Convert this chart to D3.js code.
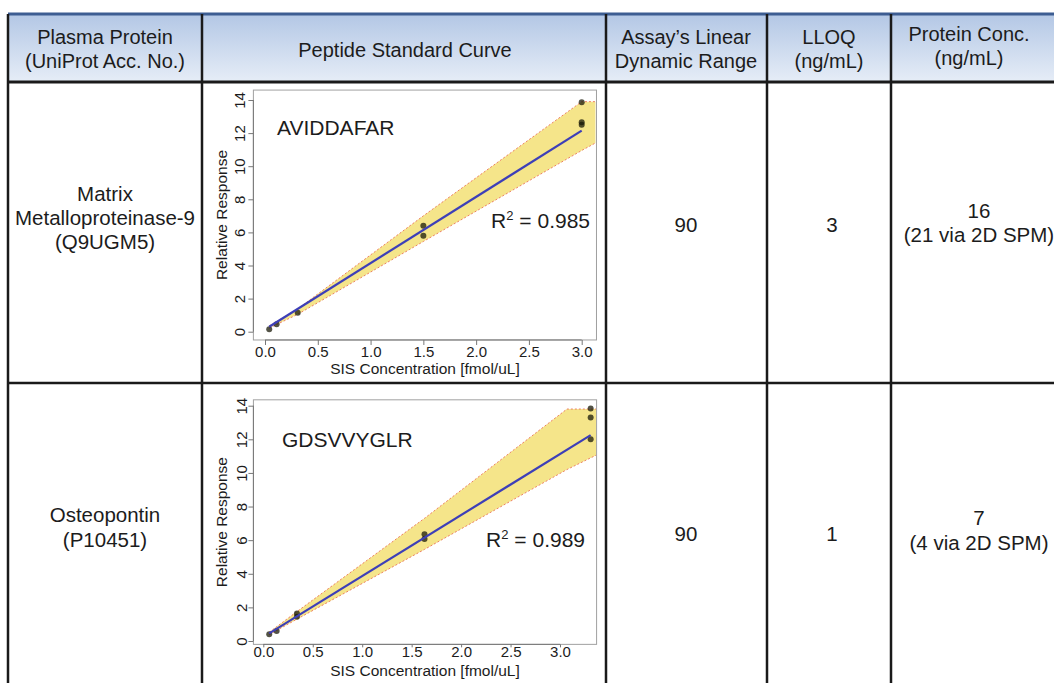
<!DOCTYPE html>
<html>
<head>
<meta charset="utf-8">
<script src="https://cdn.jsdelivr.net/npm/d3@7"></script>
<style>
  body { margin: 0; background: #fff; }
  svg { display: block; }
  text { font-family: "Liberation Sans", Arial, Helvetica, sans-serif; fill: #1c1c1c; }
</style>
</head>
<body>
<div id="chart"></div>
<script>
// ---- table content ----
const headers = [
  ["Plasma Protein", "(UniProt Acc. No.)"],
  ["Peptide Standard Curve"],
  ["Assay\u2019s Linear", "Dynamic Range"],
  ["LLOQ", "(ng/mL)"],
  ["Protein Conc.", "(ng/mL)"]
];
const proteins = [["Matrix", "Metalloproteinase-9", "(Q9UGM5)"], ["Osteopontin", "(P10451)"]];
const peptides = ["AVIDDAFAR", "GDSVVYGLR"];
const rSquared = ["0.985", "0.989"];
const linearRange = ["90", "90"];
const lloq = ["3", "1"];
const proteinConc = [["16", "(21 via 2D SPM)"], ["7", "(4 via 2D SPM)"]];

// ---- standard curves ----
const xTicks = [0, 0.5, 1.0, 1.5, 2.0, 2.5, 3.0];
const yTicks = [0, 2, 4, 6, 8, 10, 12, 14];

const mmp9X = [0.04, 0.11, 0.31, 1.5, 1.5, 3.0, 3.0, 3.0];
const mmp9Y = [0.15, 0.45, 1.15, 6.4, 5.8, 13.86, 12.65, 12.5];
const mmp9FitX = [0.04, 3.0];
const mmp9FitY = [0.3, 12.15];
const mmp9BandX = [0.04, 0.31, 1.5, 3.0, 3.13];
const mmp9BandLo = [0.22, 1.05, 5.45, 10.95, 11.4];
const mmp9BandHi = [0.35, 1.38, 7.0, 13.9, 13.9];

const opnX = [0.06, 0.135, 0.34, 0.34, 1.63, 1.63, 3.31, 3.31, 3.31];
const opnY = [0.4, 0.6, 1.63, 1.45, 6.35, 6.07, 13.84, 13.3, 12.0];
const opnFitX = [0.06, 3.31];
const opnFitY = [0.45, 12.25];
const opnBandX = [0.06, 0.34, 1.63, 3.07, 3.37];
const opnBandLo = [0.38, 1.3, 5.45, 10.2, 11.07];
const opnBandHi = [0.52, 1.75, 7.3, 13.8, 13.8];

const W = 1054, H = 683;
const svg = d3.select("#chart").append("svg").attr("width", W).attr("height", H);

// table grid
const colX = [8, 202, 606, 767, 891, 1060];
const headTop = 14, headBottom = 82, rowBottoms = [383, 700];

const grad = svg.append("defs").append("linearGradient")
  .attr("id", "hdr").attr("x1", 0).attr("x2", 0).attr("y1", 0).attr("y2", 1);
grad.append("stop").attr("offset", "0%").attr("stop-color", "#b3c7e5");
grad.append("stop").attr("offset", "100%").attr("stop-color", "#e6edf7");

svg.append("rect")
  .attr("x", colX[0]).attr("y", headTop)
  .attr("width", colX[5] - colX[0]).attr("height", headBottom - headTop)
  .attr("fill", "url(#hdr)");

svg.append("line").attr("x1", colX[0]).attr("x2", W).attr("y1", headTop).attr("y2", headTop)
  .attr("stroke", "#3d5d92").attr("stroke-width", 3);

const headerCenters = [105, 405, 686, 829, 969];
const headerBase = [[44, 68], [57], [44, 68], [44, 68], [41, 65]];
headers.forEach((lines, i) => {
  lines.forEach((t, j) => {
    svg.append("text").attr("x", headerCenters[i]).attr("y", headerBase[i][j])
      .attr("text-anchor", "middle").style("font-size", "20px").text(t);
  });
});

// body cells
const bodyCenters = [105, 405, 686, 832, 979];
const proteinBase = [[201, 225, 249], [522, 547]];
const numBase = [232, 541];
const concBase = [[218, 242], [525, 550]];

proteins.forEach((lines, r) => {
  lines.forEach((t, j) => {
    svg.append("text").attr("x", bodyCenters[0]).attr("y", proteinBase[r][j])
      .attr("text-anchor", "middle").style("font-size", "20.5px").text(t);
  });
  svg.append("text").attr("x", bodyCenters[2]).attr("y", numBase[r])
    .attr("text-anchor", "middle").style("font-size", "20.5px").text(linearRange[r]);
  svg.append("text").attr("x", bodyCenters[3]).attr("y", numBase[r])
    .attr("text-anchor", "middle").style("font-size", "20.5px").text(lloq[r]);
  proteinConc[r].forEach((t, j) => {
    svg.append("text").attr("x", bodyCenters[4]).attr("y", concBase[r][j])
      .attr("text-anchor", "middle").style("font-size", "20.5px").text(t);
  });
});

// ---- plots ----
const plots = [
  { pts: [mmp9X, mmp9Y], fit: [mmp9FitX, mmp9FitY], band: [mmp9BandX, mmp9BandLo, mmp9BandHi],
    label: peptides[0], r2: rSquared[0],
    xr: [265, 581.7], yr: [331.7, 100], xlim: [-0.11, 3.14], ylim: [-0.5, 14.6],
    ticksLen: 5, xLabBase: 357, xTitleBase: 374, yLabX: 245, yTitleX: 227,
    labelPos: [277, 135], r2Pos: [590, 228] },
  { pts: [opnX, opnY], fit: [opnFitX, opnFitY], band: [opnBandX, opnBandLo, opnBandHi],
    label: peptides[1], r2: rSquared[1],
    xr: [263.3, 560], yr: [641, 405.7], xlim: [-0.1, 3.37], ylim: [-0.2, 14.35],
    ticksLen: 3, xLabBase: 657, xTitleBase: 676, yLabX: 247, yTitleX: 227,
    labelPos: [282, 447], r2Pos: [585, 547] }
];

plots.forEach(p => {
  const x = d3.scaleLinear().domain([0, 3]).range(p.xr);
  const y = d3.scaleLinear().domain([0, 14]).range(p.yr);
  const g = svg.append("g");
  const bx0 = x(p.xlim[0]), bx1 = x(p.xlim[1]), by0 = y(p.ylim[1]), by1 = y(p.ylim[0]);

  const clip = "clip" + Math.round(by0);
  g.append("clipPath").attr("id", clip).append("rect")
    .attr("x", bx0).attr("y", by0).attr("width", bx1 - bx0).attr("height", by1 - by0);

  const inner = g.append("g").attr("clip-path", `url(#${clip})`);
  const [bX, bLo, bHi] = p.band;
  const bandRows = bX.map((v, i) => ({ x: v, lo: bLo[i], hi: bHi[i] }));

  inner.append("path").datum(bandRows)
    .attr("d", d3.area().x(d => x(d.x)).y0(d => y(d.lo)).y1(d => y(d.hi)))
    .attr("fill", "#f5e58a");

  ["lo", "hi"].forEach(k => {
    inner.append("path").datum(bandRows)
      .attr("d", d3.line().x(d => x(d.x)).y(d => y(d[k])))
      .attr("fill", "none").attr("stroke", "#ec8066").attr("stroke-width", 1)
      .attr("stroke-dasharray", "2,2");
  });

  const [px, py] = p.pts;
  inner.selectAll("circle.pt").data(px.map((v, i) => [v, py[i]])).enter()
    .append("circle").attr("class", "pt")
    .attr("cx", d => x(d[0])).attr("cy", d => y(d[1])).attr("r", 3)
    .attr("fill", "#1a1a08").attr("fill-opacity", 0.75);

  const [fx, fy] = p.fit;
  inner.append("path").datum(fx.map((v, i) => [v, fy[i]]))
    .attr("d", d3.line().x(d => x(d[0])).y(d => y(d[1])))
    .attr("stroke", "#3d3fb8").attr("stroke-width", 2.2).attr("fill", "none");

  // box
  g.append("rect").attr("x", bx0).attr("y", by0).attr("width", bx1 - bx0).attr("height", by1 - by0)
    .attr("fill", "none").attr("stroke", "#a0a0a0").attr("stroke-width", 1);

  // x axis
  const xa = g.append("g").attr("transform", `translate(0,${by1})`)
    .call(d3.axisBottom(x).tickValues(xTicks).tickFormat(d3.format(".1f")).tickSize(p.ticksLen).tickSizeOuter(0));
  xa.select(".domain").remove();
  xa.selectAll(".tick line").attr("stroke", "#777");
  xa.selectAll(".tick text").attr("y", null).attr("dy", null)
    .attr("transform", `translate(0,${p.xLabBase - by1})`)
    .style("font-size", "15px").attr("fill", "#1c1c1c");
  g.append("line").attr("x1", x(0)).attr("x2", x(3)).attr("y1", by1).attr("y2", by1)
    .attr("stroke", "#777");

  // y axis
  const ya = g.append("g").attr("transform", `translate(${bx0},0)`)
    .call(d3.axisLeft(y).tickValues(yTicks).tickSize(5).tickSizeOuter(0));
  ya.select(".domain").remove();
  ya.selectAll(".tick line").attr("stroke", "#777");
  ya.selectAll(".tick text").attr("x", null).attr("dy", null)
    .attr("text-anchor", "middle")
    .attr("transform", `translate(${p.yLabX - bx0},0) rotate(-90)`)
    .style("font-size", "15px").attr("fill", "#1c1c1c");
  g.append("line").attr("x1", bx0).attr("x2", bx0).attr("y1", y(0)).attr("y2", y(14))
    .attr("stroke", "#777");

  g.append("text").attr("x", (bx0 + bx1) / 2).attr("y", p.xTitleBase)
    .attr("text-anchor", "middle").style("font-size", "15.5px").text("SIS Concentration [fmol/uL]");
  g.append("text").attr("transform", `translate(${p.yTitleX},${(by0 + by1) / 2}) rotate(-90)`)
    .attr("text-anchor", "middle").style("font-size", "15.5px").text("Relative Response");

  g.append("text").attr("x", p.labelPos[0]).attr("y", p.labelPos[1])
    .style("font-size", "21px").text(p.label);
  const r2 = g.append("text").attr("x", p.r2Pos[0]).attr("y", p.r2Pos[1])
    .attr("text-anchor", "end").style("font-size", "21px");
  r2.append("tspan").text("R");
  r2.append("tspan").attr("dy", -8).style("font-size", "13px").text("2");
  r2.append("tspan").attr("dy", 8).text(" = " + p.r2);
});

// grid lines on top
const gridG = svg.append("g").attr("stroke", "#1a1a1a").attr("stroke-width", 2.5);
colX.slice(0, 5).forEach(cx => {
  gridG.append("line").attr("x1", cx).attr("x2", cx).attr("y1", headTop).attr("y2", H);
});
gridG.append("line").attr("x1", colX[0]).attr("x2", W).attr("y1", headBottom).attr("y2", headBottom)
  .attr("stroke-width", 3);
gridG.append("line").attr("x1", colX[0]).attr("x2", W).attr("y1", rowBottoms[0]).attr("y2", rowBottoms[0]);
</script>
</body>
</html>
